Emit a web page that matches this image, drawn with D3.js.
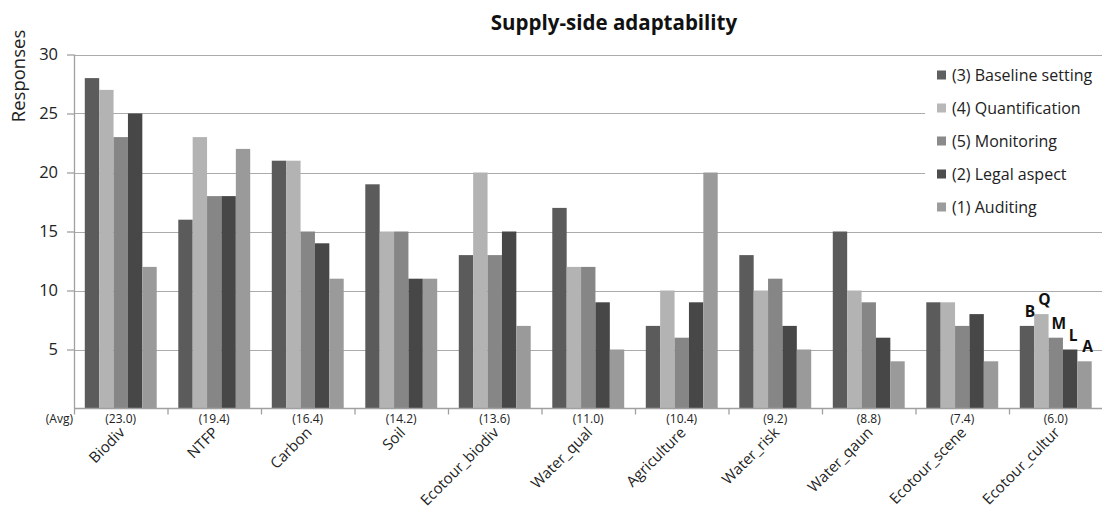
<!DOCTYPE html>
<html>
<head>
<meta charset="utf-8">
<script src="https://cdn.jsdelivr.net/npm/d3@7"></script>
<style>
  html, body { margin: 0; padding: 0; background: #fff; }
  svg { display: block; font-family: "Open Sans", Lato, sans-serif; }
</style>
</head>
<body>
<svg id="chart" width="1102" height="514"></svg>
<script>
// Ecosystem services, ordered by average number of responses
const categories = ["Biodiv", "NTFP", "Carbon", "Soil", "Ecotour_biodiv", "Water_qual",
  "Agriculture", "Water_risk", "Water_qaun", "Ecotour_scene", "Ecotour_cultur"];

const seriesNames = ["(3) Baseline setting", "(4) Quantification", "(5) Monitoring",
  "(2) Legal aspect", "(1) Auditing"];

// responses per category, one array per series
const baseline       = [28, 16, 21, 19, 13, 17, 7, 13, 15, 9, 7];
const quantification = [27, 23, 21, 15, 20, 12, 10, 10, 10, 9, 8];
const monitoring     = [23, 18, 15, 15, 13, 12, 6, 11, 9, 7, 6];
const legal          = [25, 18, 14, 11, 15, 9, 9, 7, 6, 8, 5];
const auditing       = [12, 22, 11, 11, 7, 5, 20, 5, 4, 4, 4];

const averageLabels = ["(23.0)", "(19.4)", "(16.4)", "(14.2)", "(13.6)", "(11.0)",
  "(10.4)", "(9.2)", "(8.8)", "(7.4)", "(6.0)"];

const yTicks = [5, 10, 15, 20, 25, 30];

// letter tags drawn above the last group of bars
const barTags = ["B", "Q", "M", "L", "A"];

const seriesValues = [baseline, quantification, monitoring, legal, auditing];
const colors = ["#5b5b5b", "#b3b3b3", "#868686", "#474747", "#9a9a9a"];
const legendColors = ["#606060", "#b8b8b8", "#8a8a8a", "#4d4d4d", "#9c9c9c"];

const svg = d3.select("#chart");
const plotLeft = 74, plotRight = 1102.5, plotTop = 54.5, plotBottom = 408.5;

const x = d3.scaleBand().domain(categories).range([plotLeft, plotRight]).padding(0);
const xs = d3.scaleBand().domain(d3.range(seriesNames.length))
  .range([0, x.bandwidth()]).paddingInner(0).paddingOuter(0.75);
const y = d3.scaleLinear().domain([0, 30]).range([plotBottom, plotTop]);

// horizontal gridlines
svg.append("g")
  .selectAll("line")
  .data(yTicks)
  .join("line")
  .attr("x1", plotLeft).attr("x2", plotRight)
  .attr("y1", d => Math.round(y(d)) + 0.5).attr("y2", d => Math.round(y(d)) + 0.5)
  .attr("stroke", "#ababab").attr("stroke-width", 1.2);

// bars
const rows = categories.map((c, i) => ({ c, vals: seriesValues.map(s => s[i]) }));
const groups = svg.append("g")
  .selectAll("g")
  .data(rows)
  .join("g")
  .attr("transform", d => `translate(${x(d.c)},0)`);

groups.selectAll("rect")
  .data(d => d.vals.map((v, k) => ({ v, k })))
  .join("rect")
  .attr("x", d => xs(d.k))
  .attr("width", xs.bandwidth())
  .attr("y", d => y(d.v))
  .attr("height", d => y(0) - y(d.v))
  .attr("fill", d => colors[d.k]);

// y axis
const yAxis = svg.append("g")
  .attr("transform", `translate(${plotLeft},0)`)
  .call(d3.axisLeft(y).tickValues(yTicks).tickSize(7).tickPadding(9));
yAxis.select(".domain").attr("stroke", "#a0a0a0").attr("stroke-width", 1.3)
  .attr("d", `M0.5,${plotTop}V${plotBottom}`);
yAxis.selectAll(".tick line").attr("stroke", "#a0a0a0").attr("stroke-width", 1.3);
yAxis.selectAll(".tick text").attr("font-size", 16.5).attr("fill", "#222")
  .attr("font-family", "'Open Sans', sans-serif");

// x axis baseline and category separators
svg.append("line")
  .attr("x1", plotLeft).attr("x2", plotRight)
  .attr("y1", plotBottom).attr("y2", plotBottom)
  .attr("stroke", "#a0a0a0").attr("stroke-width", 1.5);
svg.append("g")
  .selectAll("line")
  .data(categories)
  .join("line")
  .attr("x1", d => x(d) + 0.5).attr("x2", d => x(d) + 0.5)
  .attr("y1", plotBottom).attr("y2", plotBottom + 6)
  .attr("stroke", "#a0a0a0").attr("stroke-width", 1.3);

// average row
svg.append("text")
  .attr("x", plotLeft - 1).attr("y", plotBottom + 14)
  .attr("text-anchor", "end")
  .attr("font-size", 12).attr("fill", "#222")
  .text("(Avg)");
svg.append("g")
  .selectAll("text")
  .data(categories)
  .join("text")
  .attr("x", d => x(d) + x.bandwidth() / 2)
  .attr("y", plotBottom + 14)
  .attr("text-anchor", "middle")
  .attr("font-size", 12).attr("fill", "#222")
  .text((d, i) => averageLabels[i]);

// rotated category names
svg.append("g")
  .selectAll("text")
  .data(categories)
  .join("text")
  .attr("transform", d => `translate(${x(d) + x.bandwidth() / 2 + 5},${plotBottom + 25}) rotate(-45)`)
  .attr("text-anchor", "end")
  .attr("font-size", 15).attr("fill", "#222")
  .text(d => d);

// tags over the last group
const lastCat = categories[categories.length - 1];
svg.append("g")
  .selectAll("text")
  .data(barTags)
  .join("text")
  .attr("x", (d, k) => x(lastCat) + xs(k) + xs.bandwidth() / 2 + 3)
  .attr("y", (d, k) => y(seriesValues[k][categories.length - 1]) - 9)
  .attr("text-anchor", "middle")
  .attr("font-size", 15.5).attr("font-weight", "bold").attr("fill", "#111")
  .text(d => d);

// title
svg.append("text")
  .attr("x", 614).attr("y", 30)
  .attr("text-anchor", "middle")
  .attr("font-size", 20.5).attr("font-weight", "bold").attr("fill", "#111")
  .text("Supply-side adaptability");

// y axis title
svg.append("text")
  .attr("transform", "translate(25,76) rotate(-90)")
  .attr("text-anchor", "middle")
  .attr("font-size", 18.5).attr("fill", "#222")
  .text("Responses");

// legend with white backing over the gridlines
const legend = svg.append("g");
legend.append("rect")
  .attr("x", 925).attr("y", 56).attr("width", 180).attr("height", 168)
  .attr("fill", "#fff");
const items = legend.selectAll("g")
  .data(seriesNames)
  .join("g")
  .attr("transform", (d, i) => `translate(937,${75 + i * 33})`);
items.append("rect")
  .attr("x", 0).attr("y", -4.5).attr("width", 9).attr("height", 9)
  .attr("fill", (d, i) => legendColors[i]);
items.append("text")
  .attr("x", 15).attr("y", 5.5)
  .attr("font-size", 16).attr("fill", "#222")
  .text(d => d);
</script>
</body>
</html>
